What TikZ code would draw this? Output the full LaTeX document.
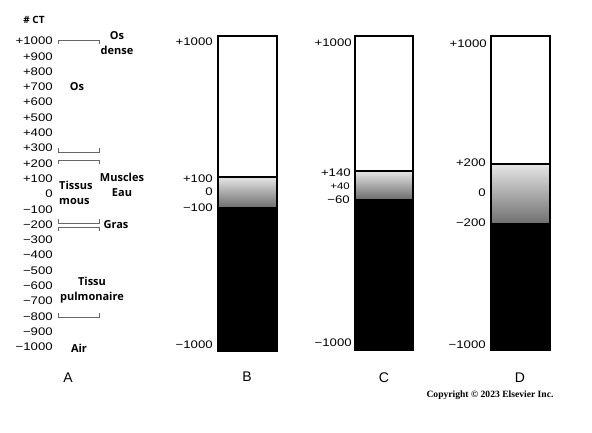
\documentclass[tikz,border=0pt]{standalone}
\usepackage{fontspec}
\setmainfont{Liberation Sans}
\newfontfamily\tissuefont{Open Sans}
\newfontfamily\copyfont{Liberation Serif}
\tikzset{
  numlab/.style={font=\fontsize{11}{12}\selectfont, xscale=1.2, transform shape, inner sep=0pt, anchor=east},
  numsmall/.style={numlab, font=\fontsize{9.5}{10}\selectfont},
  tislab/.style={font=\tissuefont\bfseries\fontsize{11}{15}\selectfont, inner sep=0pt, align=center},
  tisleft/.style={tislab, align=left, anchor=west},
  letterlab/.style={font=\fontsize{14}{15}\selectfont, inner sep=0pt},
  bracket/.style={draw=black!60, line width=0.8pt},
  barline/.style={draw=black, line width=1.1pt},
  grad/.style={top color=black!10, bottom color=black!55},
}
\begin{document}
\begin{tikzpicture}[x=1pt,y=-1pt]
\useasboundingbox (0,0) rectangle (592,432);
% ---------- column A ----------
\node[font=\tissuefont\bfseries\fontsize{10}{12}\selectfont, inner sep=0pt] (ct) at (34,20) {\# CT};
\foreach \v/\t in {1000/+1000,900/+900,800/+800,700/+700,600/+600,500/+500,400/+400,300/+300,200/+200,100/+100,0/0,-100/−100,-200/−200,-300/−300,-400/−400,-500/−500,-600/−600,-700/−700,-800/−800,-900/−900,-1000/−1000}
  \node[numlab] (a\v) at (53,{41+(1000-\v)*0.153}) {\t};
% brackets
\draw[bracket] (58,44) -- (58,40) -- (99,40) -- (99,44);
\draw[bracket] (58,148) -- (58,152) -- (99,152) -- (99,148);
\draw[bracket] (58,164) -- (58,160) -- (99,160) -- (99,164);
\draw[bracket] (58,219) -- (58,223) -- (99,223) -- (99,219);
\draw[bracket] (58,231) -- (58,227) -- (99,227) -- (99,231);
\draw[bracket] (58,313) -- (58,317) -- (99,317) -- (99,313);
% tissue labels
\node[tislab] (osd) at (117,43) {Os\\dense};
\node[tislab] (os) at (77,87) {Os};
\node[tislab] (mus) at (122,185) {Muscles\\Eau};
\node[tisleft] (tm) at (59,193) {Tissus\\mous};
\node[tislab] (gras) at (116,225) {Gras};
\node[tislab] (tp) at (92,290) {Tissu\\pulmonaire};
\node[tislab] (air) at (79,348) {Air};
\node[letterlab] (la) at (68,378) {A};
% ---------- column B ----------
\fill[black] (218,206) rectangle (277,351);
\shade[grad] (218,177) rectangle (277,206);
\draw[barline] (218,36) rectangle (277,351);
\draw[barline] (218,177) -- (277,177);
\node[numlab] (b1) at (213,42) {+1000};
\node[numlab] (b2) at (213,179) {+100};
\node[numlab] (b3) at (213,192) {0};
\node[numlab] (b4) at (213,208) {−100};
\node[numlab] (b5) at (213,345) {−1000};
\node[letterlab] (lb) at (247,377) {B};
% ---------- column C ----------
\fill[black] (355,198) rectangle (413,350);
\shade[grad] (355,171) rectangle (413,198);
\draw[barline] (355,36) rectangle (413,350);
\draw[barline] (355,171) -- (413,171);
\node[numlab] (c1) at (352,43) {+1000};
\node[numlab] (c2) at (351,173) {+140};
\node[numsmall] (c3) at (350,186) {+40};
\node[numlab] (c4) at (350,200) {−60};
\node[numlab] (c5) at (352,343) {−1000};
\node[letterlab] (lc) at (384,378) {C};
% ---------- column D ----------
\fill[black] (491,222) rectangle (550,350);
\shade[grad] (491,164) rectangle (550,222);
\draw[barline] (491,36) rectangle (550,350);
\draw[barline] (491,164) -- (550,164);
\node[numlab] (d1) at (487,44) {+1000};
\node[numlab] (d2) at (486,163) {+200};
\node[numlab] (d3) at (486,193) {0};
\node[numlab] (d4) at (486,223) {−200};
\node[numlab] (d5) at (486,345) {−1000};
\node[letterlab] (ld) at (520,378) {D};
\node[font=\copyfont\bfseries\fontsize{9.6}{11}\selectfont, inner sep=0pt] (copy) at (490,395) {Copyright © 2023 Elsevier Inc.};
\end{tikzpicture}
\end{document}
